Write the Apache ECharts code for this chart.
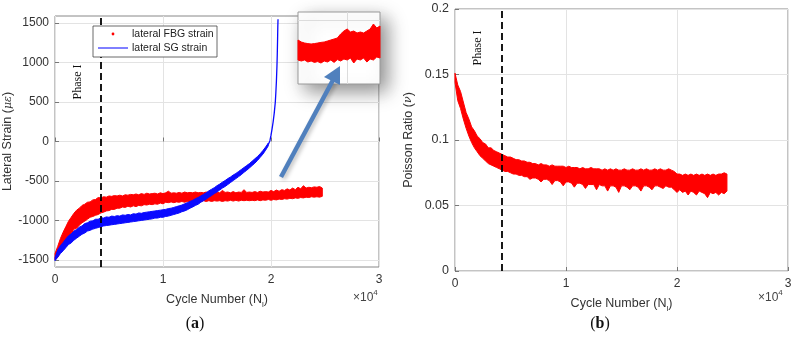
<!DOCTYPE html>
<html>
<head>
<meta charset="utf-8">
<script src="https://cdn.jsdelivr.net/npm/echarts@6/dist/echarts.min.js"></script>
<style>
  html, body { margin: 0; padding: 0; background: #fff; }
  #chart { width: 795px; height: 338px; }
</style>
</head>
<body>
<div id="chart"></div>
<script>
// cycles between samples of the noisy bands
const cycleStep = 250
const phaseEnd = 4200
const strainTicks = [-1500, -1000, -500, 0, 500, 1000, 1500]

// (a) lateral FBG strain, lower / upper edge of the red band
const fbgLower = [-1500, -1470, -1400, -1340, -1280, -1220, -1170, -1110, -1100, -1060,
  -1030, -1010, -985, -960, -950, -935, -925, -905, -895, -880,
  -875, -860, -860, -845, -845, -830, -835, -820, -830, -815,
  -825, -810, -815, -800, -805, -795, -800, -790, -795, -780,
  -790, -770, -775, -765, -775, -765, -770, -760, -770, -760,
  -765, -755, -765, -755, -760, -750, -760, -750, -760, -750,
  -755, -750, -760, -750, -755, -745, -755, -745, -755, -745,
  -750, -745, -750, -745, -750, -740, -750, -740, -745, -735,
  -745, -735, -740, -730, -735, -725, -730, -720, -725, -715,
  -720, -710, -715, -705, -710, -700, -705, -700, -705, -695]
const fbgUpper = [-1420, -1330, -1230, -1150, -1080, -1010, -960, -910, -870, -845,
  -810, -795, -770, -765, -740, -735, -710, -715, -700, -705,
  -690, -695, -685, -690, -680, -690, -675, -680, -670, -675,
  -665, -675, -660, -670, -655, -665, -660, -655, -665, -650,
  -660, -650, -630, -655, -650, -655, -645, -655, -640, -650,
  -645, -650, -640, -650, -645, -650, -640, -650, -645, -650,
  -640, -650, -620, -645, -640, -650, -635, -650, -640, -645,
  -610, -645, -640, -645, -635, -645, -630, -640, -635, -640,
  -620, -635, -615, -630, -610, -620, -600, -615, -590, -610,
  -580, -600, -560, -590, -580, -585, -575, -580, -570, -590]

// (a) lateral SG strain, lower / upper edge of the blue band, then the steep thin tail
const sgLower = [-1510, -1465, -1420, -1385, -1345, -1305, -1285, -1250, -1225, -1200,
  -1175, -1160, -1135, -1125, -1110, -1100, -1090, -1080, -1070, -1065,
  -1060, -1055, -1050, -1045, -1040, -1035, -1030, -1025, -1020, -1015,
  -1010, -1005, -1000, -995, -990, -985, -980, -970, -970, -960,
  -960, -950, -945, -935, -925, -915, -905, -890, -880, -865,
  -845, -830, -810, -795, -770, -750, -730, -705, -685, -660,
  -640, -615, -590, -570, -545, -520, -495, -470, -445, -420,
  -390, -365, -335, -305, -275, -240, -200, -160, -110, -55]
const sgUpper = [-1470, -1375, -1320, -1280, -1235, -1195, -1170, -1135, -1115, -1085,
  -1070, -1040, -1030, -1010, -1005, -985, -985, -965, -970, -955,
  -960, -945, -950, -940, -945, -930, -935, -925, -930, -915,
  -920, -905, -910, -900, -895, -890, -885, -880, -875, -870,
  -865, -860, -850, -845, -835, -825, -815, -805, -790, -775,
  -760, -745, -725, -710, -690, -670, -650, -625, -605, -585,
  -560, -540, -515, -495, -470, -450, -425, -405, -380, -355,
  -330, -305, -280, -250, -220, -190, -155, -115, -70, -20]
const sgTail = [[19750, -38], [19900, 10], [20000, 80], [20100, 160], [20200, 250], [20300, 360],
  [20400, 500], [20450, 620], [20500, 760], [20550, 950], [20580, 1100],
  [20610, 1300], [20630, 1450], [20650, 1550]]

// (b) Poisson ratio band
const poissonLower = [0.144, 0.130, 0.124, 0.116, 0.109, 0.103, 0.098, 0.094, 0.091, 0.088,
  0.086, 0.084, 0.082, 0.081, 0.080, 0.079, 0.078, 0.077, 0.076, 0.076,
  0.075, 0.074, 0.074, 0.073, 0.073, 0.072, 0.072, 0.070, 0.071, 0.071,
  0.070, 0.068, 0.070, 0.070, 0.069, 0.066, 0.069, 0.069, 0.068, 0.065,
  0.068, 0.068, 0.067, 0.064, 0.067, 0.067, 0.066, 0.063, 0.066, 0.066,
  0.066, 0.062, 0.066, 0.065, 0.065, 0.061, 0.065, 0.065, 0.064, 0.060,
  0.065, 0.065, 0.064, 0.062, 0.065, 0.065, 0.064, 0.061, 0.065, 0.065,
  0.064, 0.062, 0.065, 0.065, 0.064, 0.063, 0.065, 0.064, 0.064, 0.062,
  0.060, 0.062, 0.060, 0.061, 0.058, 0.061, 0.060, 0.058, 0.061, 0.060,
  0.059, 0.056, 0.060, 0.059, 0.060, 0.058, 0.060, 0.059, 0.061]
const poissonUpper = [0.151, 0.142, 0.137, 0.129, 0.121, 0.116, 0.110, 0.107, 0.103, 0.101,
  0.098, 0.097, 0.094, 0.094, 0.092, 0.091, 0.090, 0.089, 0.088, 0.087,
  0.087, 0.086, 0.085, 0.085, 0.084, 0.084, 0.083, 0.083, 0.082, 0.082,
  0.081, 0.082, 0.081, 0.081, 0.080, 0.081, 0.080, 0.080, 0.080, 0.080,
  0.079, 0.080, 0.079, 0.079, 0.079, 0.078, 0.079, 0.078, 0.078, 0.079,
  0.078, 0.078, 0.078, 0.077, 0.078, 0.077, 0.078, 0.077, 0.078, 0.077,
  0.077, 0.078, 0.077, 0.077, 0.078, 0.077, 0.077, 0.078, 0.077, 0.078,
  0.077, 0.077, 0.078, 0.077, 0.078, 0.077, 0.077, 0.078, 0.077, 0.076,
  0.074, 0.074, 0.073, 0.074, 0.073, 0.074, 0.073, 0.074, 0.073, 0.074,
  0.073, 0.074, 0.073, 0.074, 0.073, 0.074, 0.074, 0.075, 0.074]

// zoomed inset of the FBG band (cycles 20000..25000, every 200)
const insetStart = 20000
const insetStep = 200
const insetLower = [-700, -705, -700, -710, -705, -712, -708, -715, -705, -710, -700, -712, -698,
  -705, -695, -700, -690, -715, -695, -700, -690, -710, -695, -700, -685, -690]
const insetUpper = [-600, -610, -615, -618, -620, -618, -615, -612, -610, -605, -600, -595, -590,
  -570, -555, -545, -560, -555, -565, -560, -565, -555, -545, -520, -540, -530]

// rows of [cycle, lower, upper]
function bandRows(lower, upper, start, step) {
  return lower.map((v, i) => [start + i * step, v, upper[i]])
}

const textColor = '#333'
const font = 'Liberation Sans'

// filled band between lower and upper edges, drawn as one polygon
function bandSeries(rows, axisIndex, color, z, extra) {
  return Object.assign({
    type: 'custom', xAxisIndex: axisIndex, yAxisIndex: axisIndex, z: z,
    data: rows, encode: { x: 0, y: [1, 2] }, silent: true,
    renderItem(params, api) {
      if (params.dataIndex !== 0) return null
      const top = rows.map(r => api.coord([r[0], r[2]]))
      const bottom = rows.map(r => api.coord([r[0], r[1]])).reverse()
      return {
        type: 'polygon',
        shape: { points: top.concat(bottom) },
        style: { fill: color, stroke: color, lineWidth: 1 }
      }
    }
  }, extra || {})
}

function cycleAxis(gridIndex, gap) {
  return {
    type: 'value', gridIndex, min: 0, max: 30000, interval: 10000,
    name: 'Cycle Number (N{s|l})', nameLocation: 'middle', nameGap: gap,
    nameTextStyle: { color: textColor, fontSize: 12.5, fontFamily: font, lineHeight: 18,
      rich: { s: { fontSize: 8, fontFamily: font, color: textColor, verticalAlign: 'bottom', lineHeight: 18 } } },
    axisLine: { show: false },
    axisTick: { inside: true, length: 4, lineStyle: { color: '#777' } },
    axisLabel: { color: textColor, fontSize: 12, fontFamily: font, margin: 7, formatter: v => v / 10000 },
    splitLine: { lineStyle: { color: '#e3e3e3' } }
  }
}

const dashed = {
  silent: true, symbol: ['none', 'none'], label: { show: false },
  lineStyle: { color: '#000', type: [7, 4], width: 1.8 },
  data: [{ xAxis: phaseEnd }]
}

const chart = echarts.init(document.getElementById('chart'))
chart.setOption({
  animation: false,
  grid: [
    { left: 55, top: 16, width: 324, height: 251, show: true, borderColor: '#888', borderWidth: 1 },
    { left: 455, top: 9, width: 333, height: 262, show: true, borderColor: '#888', borderWidth: 1 },
    { left: 298, top: 12, width: 82, height: 72 }
  ],
  xAxis: [
    cycleAxis(0, 21),
    cycleAxis(1, 15),
    {
      type: 'value', gridIndex: 2, min: insetStart, max: 25000, z: 4,
      axisLine: { show: false },
      axisTick: { show: false, customValues: [23000] },
      axisLabel: { show: false, customValues: [23000] },
      splitLine: { lineStyle: { color: '#dcdcdc' } }
    }
  ],
  yAxis: [
    {
      type: 'value', gridIndex: 0, min: -1590, max: 1590,
      name: 'Lateral Strain ({i|με})', nameLocation: 'middle', nameGap: 40,
      nameTextStyle: { color: textColor, fontSize: 12.5, fontFamily: font,
        rich: { i: { fontFamily: 'DejaVu Serif', fontStyle: 'italic', fontSize: 11, color: textColor } } },
      axisLine: { show: false },
      axisTick: { inside: true, length: 4, lineStyle: { color: '#777' }, customValues: strainTicks },
      axisLabel: { color: textColor, fontSize: 12, fontFamily: font, margin: 6, customValues: strainTicks,
        formatter: v => String(v) },
      splitLine: { lineStyle: { color: '#e3e3e3' } }
    },
    {
      type: 'value', gridIndex: 1, min: 0, max: 0.2, interval: 0.05,
      name: 'Poisson Ratio ({i|ν})', nameLocation: 'middle', nameGap: 40,
      nameTextStyle: { color: textColor, fontSize: 12.5, fontFamily: font,
        rich: { i: { fontFamily: 'DejaVu Serif', fontStyle: 'italic', fontSize: 11, color: textColor } } },
      axisLine: { show: false },
      axisTick: { inside: true, length: 4, lineStyle: { color: '#777' } },
      axisLabel: { color: textColor, fontSize: 12.5, fontFamily: font, margin: 6 },
      splitLine: { lineStyle: { color: '#e3e3e3' } }
    },
    {
      type: 'value', gridIndex: 2, min: -820, max: -460, z: 4,
      axisLine: { show: false },
      axisTick: { show: false, customValues: [-500] },
      axisLabel: { show: false, customValues: [-500] },
      splitLine: { lineStyle: { color: '#dcdcdc' } }
    }
  ],
  series: [
    bandSeries(bandRows(fbgLower, fbgUpper, 0, cycleStep), 0, '#ff0000', 2, { name: 'lateral FBG strain', markLine: dashed }),
    bandSeries(bandRows(sgLower, sgUpper, 0, cycleStep), 0, '#0a0aff', 3, { name: 'lateral SG strain' }),
    {
      name: 'lateral SG strain', type: 'line', xAxisIndex: 0, yAxisIndex: 0, z: 3,
      data: sgTail, symbol: 'none', lineStyle: { color: '#0a0aff', width: 1.3 }
    },
    bandSeries(bandRows(poissonLower, poissonUpper, 0, cycleStep), 1, '#ff0000', 2, { name: 'Poisson ratio', markLine: dashed }),
    bandSeries(bandRows(insetLower, insetUpper, insetStart, insetStep), 2, '#ff0000', 5)
  ],
  graphic: [
    // inset frame with shadow
    { type: 'rect', z: 3, shape: { x: 298, y: 12, width: 82, height: 72 },
      style: { fill: '#fff', stroke: '#999', lineWidth: 1, shadowBlur: 18, shadowColor: 'rgba(0,0,0,0.45)', shadowOffsetX: 7, shadowOffsetY: 7 } },
    // arrow
    { type: 'line', z: 6, shape: { x1: 281, y1: 177, x2: 333, y2: 80 },
      style: { stroke: '#5080bd', lineWidth: 4.5, shadowBlur: 4, shadowColor: 'rgba(0,0,0,0.25)', shadowOffsetX: 2, shadowOffsetY: 2 } },
    { type: 'polygon', z: 6, shape: { points: [[340, 66], [340, 85], [324, 77]] },
      style: { fill: '#5080bd' } },
    // legend
    { type: 'rect', z: 6, shape: { x: 93, y: 26, width: 124, height: 31 },
      style: { fill: '#fff', stroke: '#444', lineWidth: 0.8 } },
    { type: 'circle', z: 7, shape: { cx: 113, cy: 34, r: 1.4 }, style: { fill: '#ff0000' } },
    { type: 'line', z: 7, shape: { x1: 98, y1: 48, x2: 128, y2: 48 }, style: { stroke: '#0000ff', lineWidth: 1 } },
    { type: 'text', z: 7, x: 132, y: 34,
      style: { text: 'lateral FBG strain', fill: '#222', font: '10.5px "Liberation Sans"', verticalAlign: 'middle' } },
    { type: 'text', z: 7, x: 132, y: 48,
      style: { text: 'lateral SG strain', fill: '#222', font: '10.5px "Liberation Sans"', verticalAlign: 'middle' } },
    // phase labels, reading bottom to top
    { type: 'text', z: 7, x: 78, y: 82, rotation: Math.PI / 2,
      style: { text: 'Phase I', fill: '#111', font: '12px "Liberation Serif"', align: 'center', verticalAlign: 'middle' } },
    { type: 'text', z: 7, x: 478, y: 48, rotation: Math.PI / 2,
      style: { text: 'Phase I', fill: '#111', font: '12px "Liberation Serif"', align: 'center', verticalAlign: 'middle' } },
    // x10^4 multipliers
    { type: 'text', x: 353, y: 298,
      style: { text: '×10{sup|4}', fill: '#444', font: '12px "Liberation Sans"', verticalAlign: 'middle',
        rich: { sup: { fontSize: 8, verticalAlign: 'top', lineHeight: 18, fontFamily: font, fill: '#444' } } } },
    { type: 'text', x: 758, y: 298,
      style: { text: '×10{sup|4}', fill: '#444', font: '12px "Liberation Sans"', verticalAlign: 'middle',
        rich: { sup: { fontSize: 8, verticalAlign: 'top', lineHeight: 18, fontFamily: font, fill: '#444' } } } },
    // panel captions
    { type: 'text', x: 195, y: 324,
      style: { text: '({b|a})', fill: '#111', font: '16px "Liberation Serif"', align: 'center', verticalAlign: 'middle',
        rich: { b: { fontWeight: 'bold', fontSize: 16, fontFamily: 'Liberation Serif', fill: '#111' } } } },
    { type: 'text', x: 600, y: 324,
      style: { text: '({b|b})', fill: '#111', font: '16px "Liberation Serif"', align: 'center', verticalAlign: 'middle',
        rich: { b: { fontWeight: 'bold', fontSize: 16, fontFamily: 'Liberation Serif', fill: '#111' } } } }
  ]
})
</script>
</body>
</html>
